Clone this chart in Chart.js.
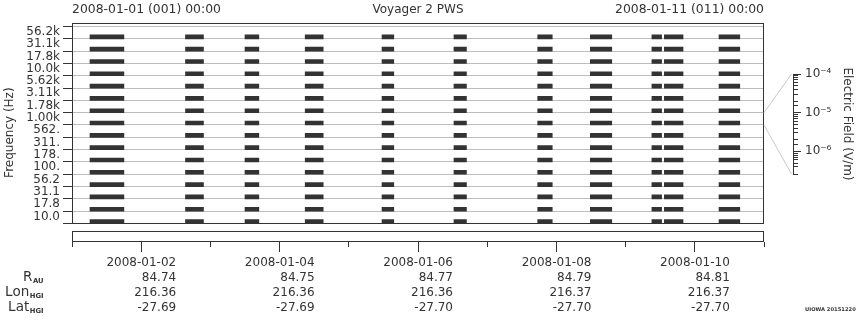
<!DOCTYPE html>
<html>
<head>
<meta charset="utf-8">
<script src="https://cdn.jsdelivr.net/npm/chart.js@4.4.1/dist/chart.umd.min.js"></script>
<style>
html, body { margin: 0; padding: 0; background: #fff; }
#wrap { position: relative; width: 860px; height: 320px; }
#wrap canvas { position: absolute; left: 0; top: 0; }
</style>
</head>
<body>
<div id="wrap">
  <canvas id="main" width="860" height="320"></canvas>
  <canvas id="cbar" width="860" height="320"></canvas>
</div>
<script>
// frequency channels, bottom to top
const freqLabels = ['10.0', '17.8', '31.1', '56.2', '100.', '178.', '311.', '562.',
                    '1.00k', '1.78k', '3.11k', '5.62k', '10.0k', '17.8k', '31.1k', '56.2k'];

// data intervals, days after 2008-01-01 00:00
const segStart = [0.26, 1.64, 2.50, 3.37, 4.48, 5.52, 6.73, 7.49, 8.38, 8.56, 9.35];
const segEnd   = [0.75, 1.90, 2.70, 3.63, 4.65, 5.70, 6.94, 7.80, 8.52, 8.83, 9.65];

// labelled time ticks
const tickDays  = [1, 3, 5, 7, 9];
const tickDates = ['2008-01-02', '2008-01-04', '2008-01-06', '2008-01-08', '2008-01-10'];
const rAU    = ['84.74', '84.75', '84.77', '84.79', '84.81'];
const lonHGI = ['216.36', '216.36', '216.36', '216.37', '216.37'];
const latHGI = ['-27.69', '-27.69', '-27.70', '-27.70', '-27.70'];

const startLabel = '2008-01-01 (001) 00:00';
const endLabel   = '2008-01-11 (011) 00:00';
const rowNames = [['R', 'AU'], ['Lon', 'HGI'], ['Lat', 'HGI']];

// electric field colour axis range (V/m)
const efieldMin = 2.6e-7;
const efieldMax = 1e-4;

const INK = '#333';
Chart.defaults.font.family = '"DejaVu Sans"';
Chart.defaults.font.size = 12;
Chart.defaults.color = INK;

// bars sit just above each channel line
const barLift = 0.16;
const bars = [];
freqLabels.forEach((f, k) => {
    segStart.forEach((s, j) => bars.push({ x: [s, segEnd[j]], y: k + barLift }));
});

const frame = {
    id: 'frame',
    afterDraw(chart) {
        const { ctx, chartArea: a, scales: { y } } = chart;
        const L = Math.round(a.left) + 0.5;
        const R = Math.round(a.right) - 0.5;
        const T = Math.round(a.top) + 0.5;
        const base = Math.round(y.getPixelForValue(0)) + 0.5;
        const sb = Math.round(a.bottom) - 0.5;
        ctx.save();
        ctx.strokeStyle = INK;
        ctx.lineWidth = 1;
        ctx.strokeRect(L, T, R - L, base - T);
        ctx.strokeRect(L, sb - 10, R - L, 10);

        ctx.fillStyle = INK;
        ctx.font = '12.4px "DejaVu Sans"';
        ctx.textBaseline = 'middle';
        ctx.textAlign = 'left';
        ctx.fillText(startLabel, a.left, 9.5);
        ctx.textAlign = 'right';
        ctx.fillText(endLabel, a.right, 9.5);

        // R / Lon / Lat row names with subscripts
        const subFont = 'bold 6.8px "DejaVu Sans"';
        rowNames.forEach((r, i) => {
            const yy = a.bottom + 20 + 15 * (i + 1);
            ctx.font = subFont;
            ctx.textAlign = 'right';
            ctx.fillText(r[1], 43.5, yy + 4.5);
            const w = ctx.measureText(r[1]).width;
            ctx.font = '13.5px "DejaVu Sans"';
            ctx.fillText(r[0], 43.5 - w - 0.5, yy);
        });

        ctx.font = 'bold 5.2px "DejaVu Sans"';
        ctx.textAlign = 'left';
        ctx.fillText('UIOWA 20151220', 805, 310);
        ctx.restore();
    }
};

const mainChart = new Chart(document.getElementById('main'), {
    type: 'bar',
    data: {
        datasets: [{
            data: bars,
            backgroundColor: INK,
            borderWidth: 0,
            barThickness: 4,
            grouped: false
        }]
    },
    options: {
        responsive: false,
        animation: false,
        events: [],
        indexAxis: 'y',
        layout: { padding: { left: 0, right: 96, top: 0, bottom: 0 } },
        plugins: {
            legend: { display: false },
            tooltip: { enabled: false },
            title: {
                display: true,
                text: 'Voyager 2 PWS',
                fullSize: false,
                color: INK,
                font: { size: 12, weight: 'normal', lineHeight: 1.2 },
                padding: { top: 3, bottom: 5.9 }
            }
        },
        scales: {
            x: {
                type: 'linear',
                position: 'bottom',
                min: 0,
                max: 10,
                afterFit: s => { s.height = 78; },
                border: { display: false },
                grid: {
                    drawOnChartArea: false,
                    tickLength: 10,
                    tickColor: INK,
                    tickBorderDash: c => tickDays.includes(c.tick && c.tick.value) ? [] : [5, 40]
                },
                ticks: {
                    stepSize: 1,
                    autoSkip: false,
                    maxRotation: 0,
                    align: 'end',
                    labelOffset: 35,
                    padding: 3,
                    color: INK,
                    font: { size: 12, lineHeight: 1.25 },
                    callback: v => {
                        const i = tickDays.indexOf(v);
                        if (i < 0) return '';
                        return [tickDates[i], rAU[i], lonHGI[i], latHGI[i]];
                    }
                }
            },
            y: {
                type: 'linear',
                offset: false,
                min: -1.503,
                max: 16.26,
                afterBuildTicks: s => {
                    s.ticks = freqLabels.concat(['']).map((_, k) => ({ value: k }));
                },
                afterFit: s => { s.width = 72; },
                border: { display: false },
                grid: { offset: false, color: '#bdbdbd', tickColor: INK, tickLength: 9 },
                ticks: {
                    autoSkip: false,
                    padding: 3,
                    labelOffset: -7,
                    color: INK,
                    font: { size: 12 },
                    callback: v => freqLabels[v] ?? ''
                },
                title: {
                    display: true,
                    text: 'Frequency (Hz)',
                    color: INK,
                    font: { size: 12 },
                    padding: { top: 3, bottom: 0 }
                }
            }
        }
    },
    plugins: [frame]
});

// colour axis for electric field
const isDecade = v => Math.abs(Math.log10(v) - Math.round(Math.log10(v))) < 1e-6;
const supMap = { '-': '\u207B', '0': '\u2070', '1': '\u00B9', '2': '\u00B2', '3': '\u00B3',
                 '4': '\u2074', '5': '\u2075', '6': '\u2076', '7': '\u2077', '8': '\u2078', '9': '\u2079' };
const sup = n => String(n).split('').map(c => supMap[c]).join('');

const connector = {
    id: 'connector',
    afterDraw(chart) {
        const ctx = chart.ctx;
        const my = mainChart.scales.y;
        const cy = chart.scales.y;
        const x0 = mainChart.chartArea.right;
        const x1 = chart.chartArea.right - 1.5;
        ctx.save();
        ctx.strokeStyle = '#c8c8c8';
        ctx.lineWidth = 1;
        ctx.beginPath();
        ctx.moveTo(x0, my.getPixelForValue(9));
        ctx.lineTo(x1, cy.top);
        ctx.moveTo(x0, my.getPixelForValue(8));
        ctx.lineTo(x1, cy.bottom);
        ctx.stroke();
        ctx.restore();
    }
};

new Chart(document.getElementById('cbar'), {
    type: 'scatter',
    data: { datasets: [{ data: [] }] },
    options: {
        responsive: false,
        animation: false,
        events: [],
        layout: { padding: { left: 791, right: 0, top: 74, bottom: 146 } },
        plugins: { legend: { display: false }, tooltip: { enabled: false } },
        scales: {
            x: { display: false },
            y: {
                type: 'logarithmic',
                position: 'right',
                min: efieldMin,
                max: efieldMax,
                afterFit: s => { s.width = 67; },
                border: { color: INK },
                grid: {
                    drawOnChartArea: false,
                    tickLength: 8,
                    tickColor: INK,
                    tickBorderDash: c => (c.tick && isDecade(c.tick.value)) ? [] : [4, 20]
                },
                ticks: {
                    autoSkip: false,
                    padding: 4,
                    color: INK,
                    font: { size: 12 },
                    callback: v => isDecade(v) ? '10' + sup(Math.round(Math.log10(v))) : ''
                },
                title: {
                    display: true,
                    text: 'Electric Field (V/m)',
                    color: INK,
                    font: { size: 12 },
                    padding: { top: 6, bottom: 0 }
                }
            }
        }
    },
    plugins: [connector]
});
</script>
</body>
</html>
